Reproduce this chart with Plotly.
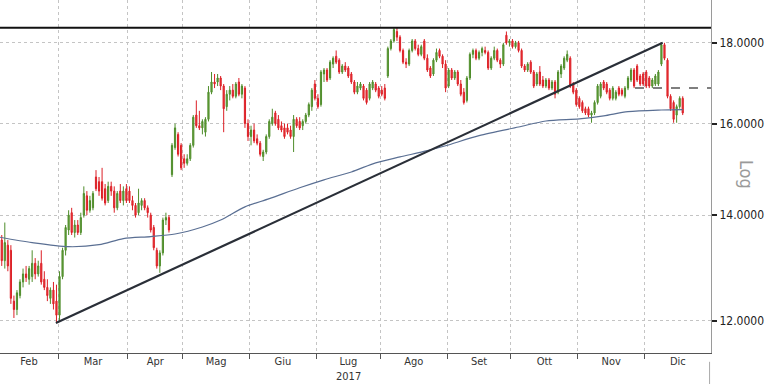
import numpy as np
import pandas as pd
import plotly.graph_objects as go

# ---------------- data ----------------
months = ["Feb", "Mar", "Apr", "Mag", "Giu", "Lug", "Ago", "Set", "Ott", "Nov", "Dic"]
year_label = "2017"
year_under = "Lug"
holidays = ["2017-04-14", "2017-04-17", "2017-05-01", "2017-08-15"]

open_ = [
    # Feb
    13.30, 13.50, 13.10, 13.40, 13.30, 12.35, 12.20, 12.45, 12.70, 12.85, 12.75, 12.80, 13.05, 12.85, 13.05, 12.75, 12.60, 12.40, 12.55, 12.35,
    # Mar
    12.10, 12.80, 13.30, 13.70, 14.05, 13.65, 13.80, 13.65, 14.00, 14.40, 14.10, 14.15, 14.80, 14.70, 14.70, 14.55, 14.30, 14.60, 14.50, 14.15, 14.50, 14.30, 14.55,
    # Apr
    14.50, 14.30, 14.20, 14.05, 14.20, 14.30, 14.15, 14.00, 13.75, 13.30, 13.00, 13.25, 13.90, 13.95, 14.85, 15.45, 15.75, 15.50,
    # May
    15.20, 15.10, 15.20, 15.50, 16.20, 15.95, 15.90, 15.80, 16.10, 16.75, 17.00, 17.00, 17.10, 16.90, 16.40, 16.70, 16.80, 16.65, 17.00, 16.70, 16.85, 16.00,
    # Jun
    15.70, 15.85, 15.65, 15.55, 15.25, 15.35, 15.70, 16.00, 16.25, 16.10, 15.95, 15.90, 15.90, 15.85, 15.70, 16.10, 16.05, 15.95, 16.05, 16.20, 16.40, 16.95,
    # Jul
    16.60, 16.45, 17.20, 17.30, 17.10, 17.45, 17.65, 17.55, 17.25, 17.40, 17.35, 17.20, 17.00, 16.75, 16.85, 16.90, 16.80, 16.60, 16.85, 16.95, 16.85,
    # Aug
    16.80, 16.85, 17.15, 17.85, 18.05, 18.30, 18.15, 17.80, 17.50, 17.45, 17.80, 18.05, 17.85, 17.70, 18.05, 17.60, 17.35, 17.20, 17.55, 17.80, 17.65, 17.45,
    # Sep
    16.90, 17.30, 17.10, 17.25, 16.95, 16.75, 16.55, 17.10, 17.70, 17.80, 17.60, 17.75, 17.80, 17.75, 17.35, 17.60, 17.80, 17.55, 17.45, 18.20, 18.00,
    # Oct
    18.05, 17.90, 18.00, 17.80, 17.40, 17.30, 17.50, 17.25, 16.95, 17.25, 17.05, 16.90, 17.05, 16.85, 17.00, 16.75, 17.20, 17.35, 17.55, 17.60, 16.95, 16.80,
    # Nov
    16.60, 16.50, 16.35, 16.35, 16.20, 16.25, 16.50, 16.65, 17.00, 16.95, 16.80, 16.60, 16.60, 16.85, 16.80, 16.65, 16.85, 17.05, 17.30, 17.40, 17.15, 17.20,
    # Dec
    17.25, 17.10, 16.90, 16.95, 16.95, 17.45, 17.95, 17.55, 16.65, 16.50, 16.20, 16.40, 16.60,
]
high = [
    13.70, 13.60, 13.85, 13.50, 13.40, 12.45, 12.55, 12.75, 12.95, 13.00, 13.00, 13.30, 13.15, 13.10, 13.30, 12.90, 12.75, 12.60, 12.70, 12.65,
    12.90, 13.35, 13.80, 14.10, 14.15, 13.90, 13.90, 14.05, 14.60, 14.50, 14.40, 14.50, 14.95, 14.80, 15.00, 14.65, 14.70, 14.70, 14.60, 14.50, 14.65, 14.60, 14.65,
    14.60, 14.40, 14.25, 14.55, 14.35, 14.35, 14.20, 14.05, 13.80, 13.35, 13.30, 13.95, 14.05, 14.00, 15.55, 16.00, 15.80, 15.55,
    15.30, 15.30, 15.55, 16.20, 16.55, 16.30, 16.10, 16.15, 16.90, 17.25, 17.20, 17.20, 17.15, 16.95, 16.80, 16.90, 16.95, 17.00, 17.10, 16.95, 16.90, 16.10,
    15.95, 16.00, 15.75, 15.60, 15.40, 15.75, 16.10, 16.35, 16.30, 16.20, 16.05, 16.00, 16.00, 15.95, 16.20, 16.15, 16.15, 16.10, 16.25, 16.50, 16.85, 17.05,
    16.70, 17.30, 17.35, 17.35, 17.55, 17.65, 17.80, 17.60, 17.45, 17.50, 17.40, 17.25, 17.05, 17.00, 17.00, 16.95, 16.85, 17.00, 17.05, 17.00, 16.90,
    16.90, 16.95, 17.90, 18.10, 18.40, 18.40, 18.20, 17.85, 17.60, 17.85, 18.10, 18.10, 17.95, 17.95, 18.10, 17.70, 17.40, 17.60, 17.85, 17.85, 17.70, 17.55,
    17.35, 17.35, 17.30, 17.30, 17.05, 16.85, 17.15, 17.75, 17.85, 17.85, 17.80, 17.90, 17.90, 17.80, 17.65, 17.90, 17.85, 17.60, 18.00, 18.30, 18.10,
    18.10, 18.05, 18.05, 17.85, 17.45, 17.50, 17.55, 17.30, 17.25, 17.40, 17.15, 17.10, 17.10, 17.05, 17.05, 17.30, 17.45, 17.65, 17.80, 17.65, 17.00, 16.85,
    16.65, 16.55, 16.40, 16.40, 16.30, 16.55, 16.95, 17.00, 17.05, 17.00, 16.85, 16.90, 16.80, 16.90, 16.85, 16.90, 17.15, 17.35, 17.35, 17.45, 17.20, 17.25,
    17.30, 17.15, 17.10, 17.20, 17.30, 18.00, 18.00, 17.60, 16.70, 16.55, 16.45, 16.65, 16.65,
]
low = [
    13.10, 13.00, 12.95, 12.90, 12.30, 12.05, 12.10, 12.40, 12.60, 12.70, 12.65, 12.70, 12.75, 12.80, 12.65, 12.55, 12.35, 12.30, 12.20, 11.97,
    12.00, 12.75, 13.20, 13.60, 13.60, 13.55, 13.60, 13.60, 13.95, 14.00, 14.05, 14.10, 14.50, 14.40, 14.30, 14.20, 14.25, 14.40, 14.05, 14.10, 14.25, 14.20, 14.25,
    14.25, 14.10, 13.95, 14.00, 14.10, 14.10, 13.95, 13.65, 13.30, 12.95, 12.87, 13.20, 13.80, 13.65, 14.80, 15.40, 15.25, 14.95,
    15.00, 15.05, 15.15, 15.45, 15.90, 15.85, 15.75, 15.70, 16.05, 16.70, 16.85, 16.90, 16.80, 15.80, 16.30, 16.55, 16.60, 16.60, 16.65, 16.60, 15.90, 15.60,
    15.50, 15.55, 15.50, 15.25, 15.15, 15.30, 15.65, 15.95, 15.95, 15.85, 15.80, 15.65, 15.75, 15.65, 15.35, 15.90, 15.85, 15.85, 16.00, 16.15, 16.30, 16.55,
    16.35, 16.40, 17.00, 17.00, 17.05, 17.35, 17.45, 17.20, 17.20, 17.25, 17.10, 16.95, 16.70, 16.70, 16.80, 16.55, 16.45, 16.55, 16.80, 16.75, 16.60,
    16.65, 16.55, 17.10, 17.80, 18.00, 18.05, 17.75, 17.45, 17.35, 17.40, 17.75, 17.80, 17.65, 17.65, 17.55, 17.25, 17.10, 17.15, 17.50, 17.60, 17.35, 16.75,
    16.85, 17.05, 17.05, 16.90, 16.65, 16.45, 16.50, 17.05, 17.60, 17.55, 17.55, 17.65, 17.70, 17.30, 17.30, 17.55, 17.50, 17.35, 17.40, 17.95, 17.90,
    17.85, 17.85, 17.75, 17.35, 17.25, 17.25, 17.20, 16.85, 16.90, 16.90, 16.85, 16.85, 16.80, 16.80, 16.60, 16.70, 17.10, 17.30, 17.50, 16.85, 16.70, 16.40,
    16.35, 16.25, 16.20, 16.15, 16.02, 16.20, 16.45, 16.60, 16.80, 16.70, 16.55, 16.55, 16.55, 16.65, 16.65, 16.60, 16.80, 17.00, 16.85, 17.00, 16.90, 16.90,
    16.85, 16.85, 16.85, 16.90, 16.90, 17.40, 17.55, 16.60, 16.30, 16.02, 16.02, 16.35, 16.20,
]
close = [
    13.55, 13.10, 13.45, 13.00, 12.40, 12.20, 12.50, 12.70, 12.85, 12.78, 12.95, 13.05, 12.85, 13.00, 12.70, 12.60, 12.45, 12.55, 12.30, 12.10,
    12.80, 13.30, 13.75, 14.00, 13.65, 13.80, 13.65, 13.95, 14.45, 14.10, 14.30, 14.45, 14.55, 14.50, 14.35, 14.25, 14.60, 14.50, 14.15, 14.45, 14.30, 14.50, 14.30,
    14.30, 14.20, 14.00, 14.25, 14.30, 14.15, 14.05, 13.70, 13.35, 13.00, 13.25, 13.90, 13.95, 13.70, 15.50, 15.90, 15.30, 15.00,
    15.10, 15.20, 15.50, 16.15, 15.95, 15.90, 16.05, 16.10, 16.75, 17.00, 16.95, 17.10, 16.90, 16.35, 16.70, 16.80, 16.65, 16.95, 16.70, 16.90, 16.00, 15.70,
    15.85, 15.60, 15.55, 15.30, 15.35, 15.70, 16.05, 16.15, 16.00, 15.90, 15.85, 15.70, 15.80, 15.70, 16.10, 15.95, 15.90, 16.05, 16.20, 16.45, 16.80, 16.60,
    16.40, 17.25, 17.30, 17.05, 17.50, 17.60, 17.50, 17.25, 17.40, 17.30, 17.15, 17.00, 16.75, 16.90, 16.95, 16.60, 16.50, 16.95, 17.00, 16.80, 16.65,
    16.70, 16.60, 17.85, 18.05, 18.35, 18.15, 17.80, 17.50, 17.45, 17.80, 18.05, 17.85, 17.70, 17.90, 17.60, 17.30, 17.15, 17.55, 17.75, 17.65, 17.45, 16.85,
    17.30, 17.10, 17.25, 16.95, 16.70, 16.50, 17.10, 17.70, 17.80, 17.60, 17.75, 17.85, 17.75, 17.35, 17.60, 17.80, 17.55, 17.45, 17.95, 18.00, 18.05,
    17.90, 18.00, 17.80, 17.40, 17.30, 17.45, 17.25, 16.90, 17.20, 16.95, 16.90, 17.05, 16.85, 17.00, 16.70, 17.25, 17.40, 17.60, 17.70, 16.90, 16.75, 16.45,
    16.40, 16.30, 16.25, 16.20, 16.25, 16.50, 16.90, 16.95, 16.85, 16.75, 16.60, 16.85, 16.75, 16.70, 16.70, 16.85, 17.10, 17.30, 16.90, 17.05, 16.95, 16.95,
    16.90, 16.90, 17.05, 17.15, 17.25, 17.95, 17.60, 16.65, 16.35, 16.10, 16.40, 16.60, 16.25,
]

# moving average (read at sample points, trading-day index)
ma_idx = [0, 11, 23, 33, 41, 50, 58, 67, 73, 81, 89, 99, 107, 116, 124, 132, 141, 147, 158, 171, 180, 191, 199, 207, 218, 225]
ma_price = [13.56, 13.45, 13.37, 13.41, 13.53, 13.57, 13.62, 13.76, 13.90, 14.17, 14.34, 14.57, 14.74, 14.91, 15.11,
            15.24, 15.38, 15.49, 15.72, 15.92, 16.06, 16.11, 16.18, 16.28, 16.32, 16.33]

# drawn trend line (index, price)
trend_idx = [18.8, 218.4]
trend_price = [11.96, 18.0]
resistance_price = 18.4
dashed_start_idx = 209.3
dashed_price = 16.85

y_ticks = [12, 14, 16, 18]
y_ticktext = ["12.0000", "14.0000", "16.0000", "18.0000"]

# ---------------- build ----------------
N = len(close)
idx = list(range(N))
days = pd.bdate_range("2017-02-01", "2017-12-31")
days = days[~days.isin(pd.to_datetime(holidays))][:N]
month_of = np.array([d.month for d in days])

boundaries = []
for m in range(3, 13):
    first = int(np.argmax(month_of == m))
    boundaries.append(first - 0.5)

px_per_day = 3.04
x_left = boundaries[0] - 58 / px_per_day
x_right = x_left + 711 / px_per_day

edges = [x_left] + boundaries + [x_right]
centers = [(edges[k] + edges[k + 1]) / 2 for k in range(len(edges) - 1)]
year_x = centers[months.index(year_under)]

FONT = "DejaVu Sans Condensed, Liberation Sans Narrow, Arial Narrow, sans-serif"

fig = go.Figure()

fig.add_trace(go.Scatter(
    x=ma_idx, y=ma_price, mode="lines",
    line=dict(color="#5a6f93", width=1.2, shape="spline", smoothing=0.8),
    hoverinfo="skip"))

fig.add_trace(go.Candlestick(
    x=idx, open=open_, high=high, low=low, close=close,
    increasing=dict(line=dict(color="#4f8d2b", width=1), fillcolor="#69a53c"),
    decreasing=dict(line=dict(color="#dc1f26", width=1), fillcolor="#ef3a3a"),
    whiskerwidth=0, hoverinfo="skip"))

fig.add_trace(go.Scatter(
    x=trend_idx, y=trend_price, mode="lines",
    line=dict(color="#2a2f38", width=2.2), hoverinfo="skip"))

fig.add_trace(go.Scatter(
    x=[x_left - 5, x_right + 5], y=[resistance_price, resistance_price], mode="lines",
    line=dict(color="#111111", width=2), hoverinfo="skip"))

fig.add_trace(go.Scatter(
    x=[dashed_start_idx, x_right + 5], y=[dashed_price, dashed_price], mode="lines",
    line=dict(color="#555555", width=1.5, dash="dash"), hoverinfo="skip"))

fig.update_layout(
    width=768, height=384,
    margin=dict(l=0, r=57, t=0, b=31, autoexpand=False),
    paper_bgcolor="white", plot_bgcolor="white",
    showlegend=False,
    boxgap=0.45,
    font=dict(family=FONT, color="#333333"),
    xaxis=dict(
        range=[x_left, x_right], automargin=False,
        tickvals=centers, ticktext=months, ticks="",
        ticklabelstandoff=-2,
        showgrid=False, zeroline=False,
        showline=True, linecolor="#555555", linewidth=1,
        tickfont=dict(size=11, color="#333333", family=FONT),
        rangeslider=dict(visible=False),
        minor=dict(tickvals=boundaries, ticks="outside", ticklen=5, tickcolor="#555555",
                   showgrid=True, gridcolor="#c4c4c4", griddash="dot", gridwidth=1),
    ),
    yaxis=dict(
        type="log", side="right", automargin=False,
        range=[np.log10(11.45), np.log10(19.16)],
        tickvals=y_ticks, ticktext=y_ticktext,
        ticks="outside", ticklen=5, tickwidth=2, tickcolor="#222222",
        showgrid=True, gridcolor="#c4c4c4", griddash="dot", gridwidth=1,
        showline=True, linecolor="#9a9a9a", linewidth=1,
        zeroline=False,
        tickfont=dict(size=12, color="#222222", family=FONT),
    ),
    annotations=[
        dict(text="Log", xref="paper", yref="paper", x=1.049, y=0.505,
             showarrow=False, textangle=90, font=dict(size=18, color="#9a9a9a", family=FONT),
             xanchor="center", yanchor="middle"),
        dict(text=year_label, xref="x", yref="paper", x=year_x, y=-0.087,
             showarrow=False, font=dict(size=11, color="#333333", family=FONT),
             xanchor="center", yanchor="bottom", borderpad=0),
    ],
    shapes=[dict(type="line", xref="paper", yref="paper", x0=0.998, x1=0.998, y0=-0.025, y1=-0.1,
                 line=dict(color="#aaaaaa", width=1))],
)

fig.write_html(
    "out.html",
    config={"displayModeBar": False},
    post_script="document.body.style.margin='0';document.body.style.padding='0';",
)
